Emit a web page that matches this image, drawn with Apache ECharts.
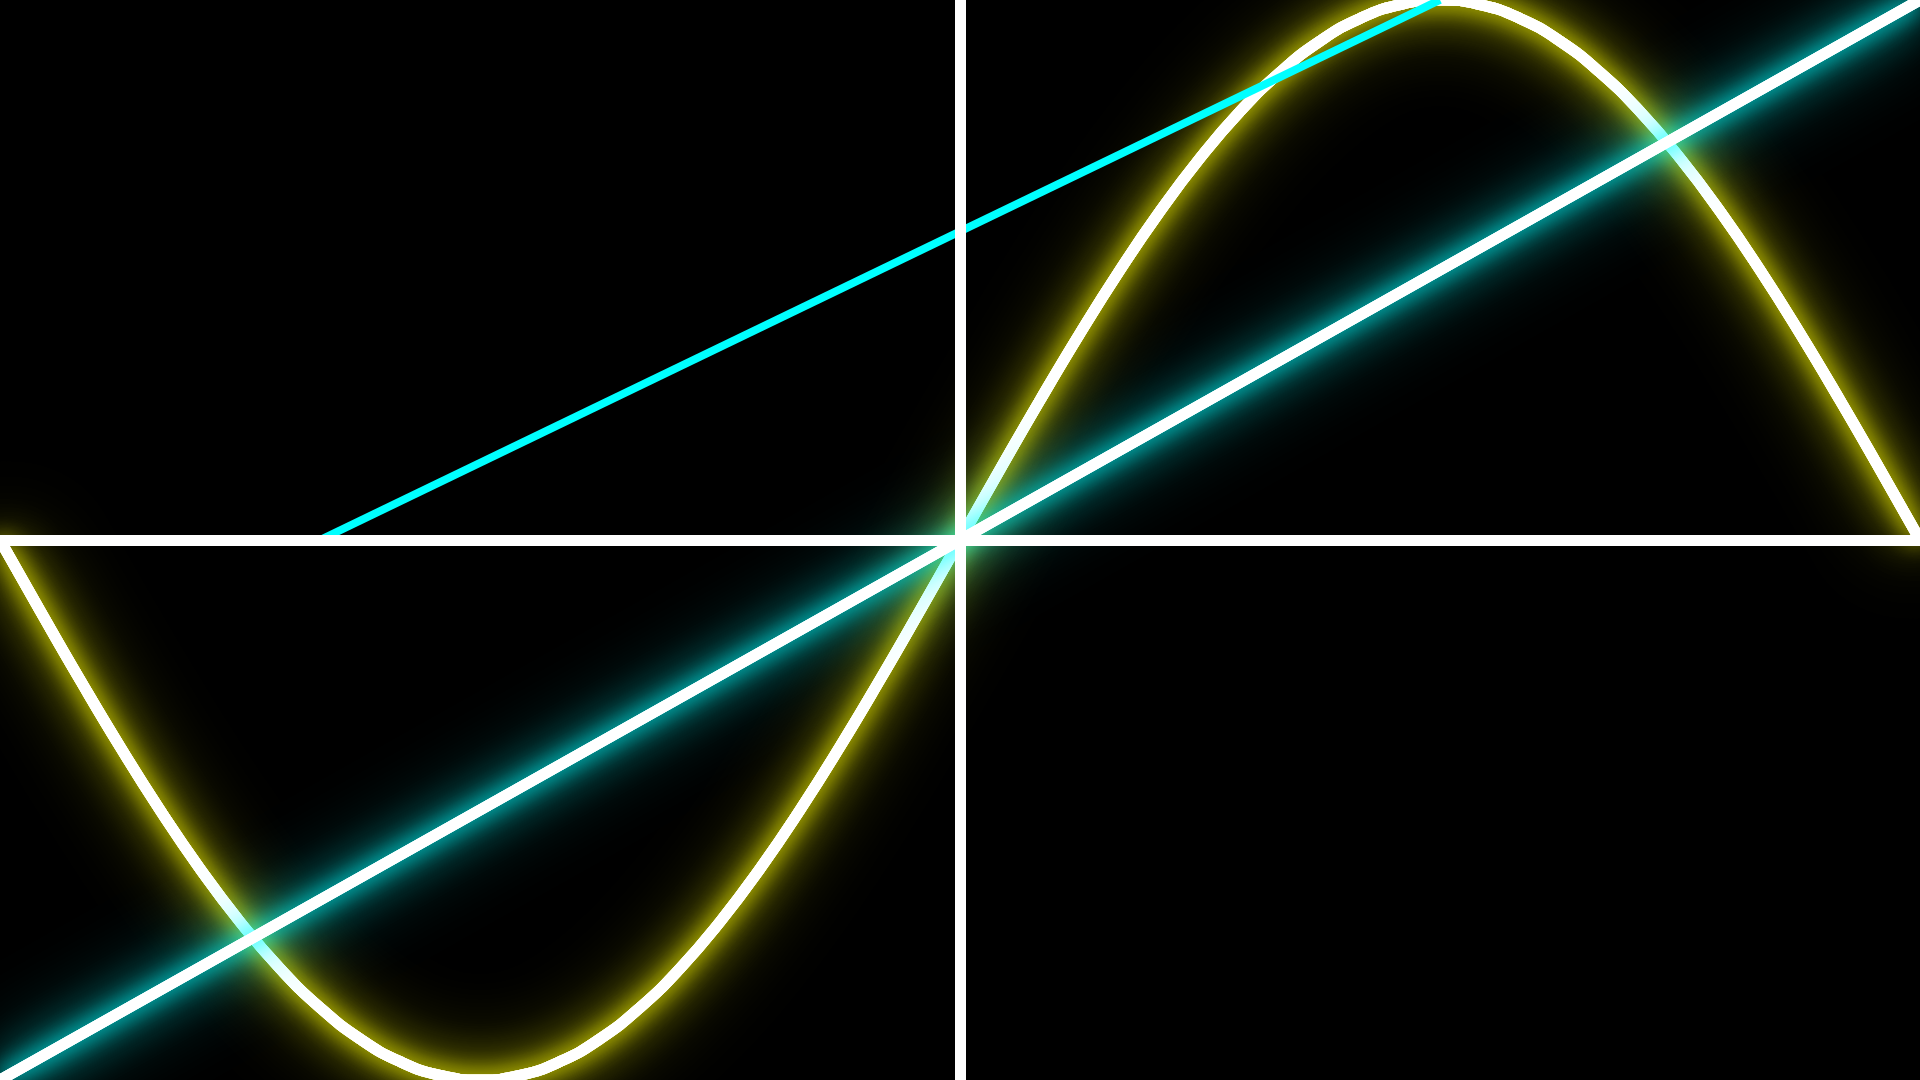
<!DOCTYPE html>
<html>
<head>
<meta charset="utf-8">
<script src="https://cdn.jsdelivr.net/npm/echarts@6/dist/echarts.min.js"></script>
<style>
  html, body { margin: 0; padding: 0; background: #000; }
  #main { width: 1920px; height: 1080px; }
</style>
</head>
<body>
<div id="main"></div>
<script>
var PI = Math.PI;

// sine curve, every pi/24
var sineX = [-3.1416, -3.0107, -2.8798, -2.7489, -2.6180, -2.4871, -2.3562, -2.2253, -2.0944, -1.9635, -1.8326, -1.7017,
             -1.5708, -1.4399, -1.3090, -1.1781, -1.0472, -0.9163, -0.7854, -0.6545, -0.5236, -0.3927, -0.2618, -0.1309,
             0, 0.1309, 0.2618, 0.3927, 0.5236, 0.6545, 0.7854, 0.9163, 1.0472, 1.1781, 1.3090, 1.4399,
             1.5708, 1.7017, 1.8326, 1.9635, 2.0944, 2.2253, 2.3562, 2.4871, 2.6180, 2.7489, 2.8798, 3.0107, 3.1416];
var sineY = [0, -0.1305, -0.2588, -0.3827, -0.5, -0.6088, -0.7071, -0.7934, -0.8660, -0.9239, -0.9659, -0.9914,
             -1, -0.9914, -0.9659, -0.9239, -0.8660, -0.7934, -0.7071, -0.6088, -0.5, -0.3827, -0.2588, -0.1305,
             0, 0.1305, 0.2588, 0.3827, 0.5, 0.6088, 0.7071, 0.7934, 0.8660, 0.9239, 0.9659, 0.9914,
             1, 0.9914, 0.9659, 0.9239, 0.8660, 0.7934, 0.7071, 0.6088, 0.5, 0.3827, 0.2588, 0.1305, 0];

// straight line through the origin
var diagX = [-3.1416, 3.1416];
var diagY = [-1, 1];

// plain cyan segment
var segX = [-2.0944, 1.5708];
var segY = [0, 1];

function pairs(xs, ys) {
    var out = [];
    for (var i = 0; i < xs.length; i++) {
        out.push([xs[i], ys[i]]);
    }
    return out;
}

// a glowing line: some blurred layers under a white core
function glow(xs, ys, color, smooth) {
    var layers = [];
    [80, 45, 22].forEach(function (blur) {
        layers.push({
            type: 'line',
            data: pairs(xs, ys),
            smooth: smooth,
            symbol: 'none',
            clip: false,
            silent: true,
            lineStyle: {
                color: '#fff',
                width: 11,
                shadowBlur: blur,
                shadowColor: color
            }
        });
    });
    layers.push({
        type: 'line',
        data: pairs(xs, ys),
        smooth: smooth,
        symbol: 'none',
        clip: false,
        lineStyle: { color: '#fff', width: 11 }
    });
    return layers;
}

var myChart = echarts.init(document.getElementById('main'));
var option = {
    backgroundColor: '#000',
    animation: false,
    grid: {
        left: 0,
        right: 0,
        top: 0,
        bottom: 0
    },
    xAxis: {
        type: 'value',
        min: -PI,
        max: PI,
        z: 10,
        axisLine: { show: true, onZero: true, lineStyle: { color: '#fff', width: 11 } },
        axisTick: { show: false },
        axisLabel: { show: false },
        splitLine: { show: false }
    },
    yAxis: {
        type: 'value',
        min: -1,
        max: 1,
        z: 10,
        axisLine: { show: true, onZero: true, lineStyle: { color: '#fff', width: 11 } },
        axisTick: { show: false },
        axisLabel: { show: false },
        splitLine: { show: false }
    },
    series: [].concat(
        glow(sineX, sineY, '#ffff00', true),
        glow(diagX, diagY, '#00ffff', false),
        [{
            type: 'line',
            data: pairs(segX, segY),
            symbol: 'none',
            clip: false,
            lineStyle: {
                color: '#00ffff',
                width: 8
            }
        }]
    )
};
myChart.setOption(option);
</script>
</body>
</html>
